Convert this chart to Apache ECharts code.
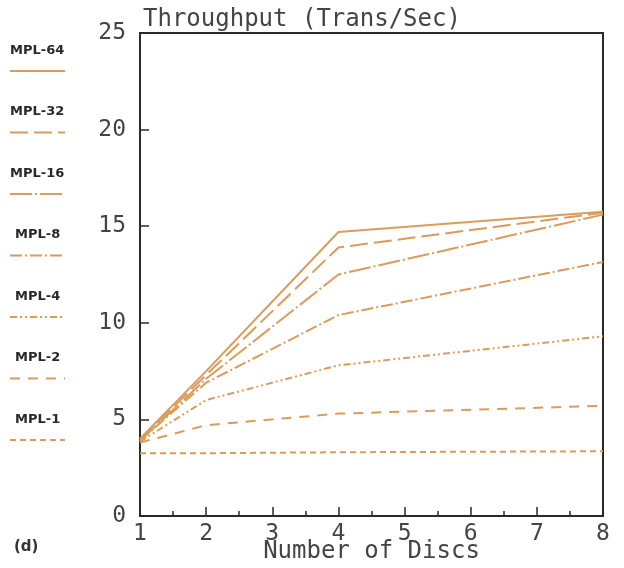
<!DOCTYPE html>
<html><head><meta charset="utf-8">
<script src="https://cdn.jsdelivr.net/npm/echarts@6/dist/echarts.min.js"></script>
<style>html,body{margin:0;padding:0;background:#fff}#c{width:624px;height:568px}</style>
</head><body><div id="c"></div>
<script>
const discs = [1, 2, 4, 8];
const seriesNames = ['MPL-64', 'MPL-32', 'MPL-16', 'MPL-8', 'MPL-4', 'MPL-2', 'MPL-1'];
const mpl64 = [4.0, 7.5, 14.7, 15.75];
const mpl32 = [3.95, 7.3, 13.9, 15.7];
const mpl16 = [3.9, 7.1, 12.5, 15.6];
const mpl8  = [3.9, 6.9, 10.4, 13.15];
const mpl4  = [3.85, 6.0, 7.8, 9.3];
const mpl2  = [3.8, 4.7, 5.3, 5.7];
const mpl1  = [3.25, 3.25, 3.3, 3.35];
const yTicks = [0, 5, 10, 15, 20, 25];

const values = [mpl64, mpl32, mpl16, mpl8, mpl4, mpl2, mpl1];
const dashes = ['solid', [18, 6], [22, 3, 2, 3], [12, 3, 2, 3], [7, 3, 2, 3, 2, 3], [10, 8], [6, 4]];
const col = '#d99c5c';
const axisCol = '#2a2a2a';
const fontF = '"DejaVu Sans Mono", monospace';

const series = seriesNames.map((n, i) => ({
  name: n, type: 'line', symbol: 'none', animation: false,
  data: discs.map((d, j) => [d, values[i][j]]),
  lineStyle: { color: col, width: 2, type: dashes[i] }
}));

const graphic = [];
seriesNames.forEach((n, i) => {
  const y0 = 52 + i * 61.5;
  graphic.push({ type: 'text', left: n.length > 5 ? 10 : 15, top: y0 - 8,
    style: { text: n, font: 'bold 13px "DejaVu Sans", sans-serif', fill: '#2a2a2a' } });
  graphic.push({ type: 'line', shape: { x1: 10, y1: y0 + 19, x2: 65, y2: y0 + 19 },
    style: { stroke: col, lineWidth: 2, lineDash: dashes[i] === 'solid' ? null : dashes[i] } });
});
graphic.push({ type: 'text', left: 14, top: 540,
  style: { text: '(d)', font: 'bold 15px "DejaVu Sans", sans-serif', fill: '#333' } });

const chart = echarts.init(document.getElementById('c'), null, { renderer: 'canvas' });
chart.setOption({
  backgroundColor: '#fff',
  animation: false,
  title: { text: 'Throughput (Trans/Sec)', left: 138, top: 3,
    textStyle: { fontFamily: fontF, fontWeight: 'normal', fontSize: 24, color: '#444' } },
  grid: { left: 140, right: 21, top: 33, bottom: 52, show: true, borderColor: axisCol, borderWidth: 2,
    containLabel: false, outerBoundsMode: 'none' },
  xAxis: {
    type: 'value', min: 1, max: 8, interval: 1,
    name: 'Number of Discs', nameLocation: 'middle', nameGap: 24, nameMoveOverlap: false,
    nameTextStyle: { fontFamily: fontF, fontSize: 24, color: '#444', verticalAlign: 'top' },
    axisLine: { lineStyle: { color: axisCol, width: 2 } },
    axisTick: { inside: true, length: 9, lineStyle: { color: axisCol, width: 1.5 } },
    minorTick: { show: true, splitNumber: 2, length: 5, lineStyle: { color: axisCol, width: 1.5 } },
    axisLabel: { fontFamily: fontF, fontSize: 23, color: '#444', margin: 7 },
    splitLine: { show: false }
  },
  yAxis: {
    type: 'value', min: 0, max: 25, interval: 5,
    axisLine: { lineStyle: { color: axisCol, width: 2 } },
    axisTick: { inside: true, length: 9, lineStyle: { color: axisCol, width: 1.5 } },
    axisLabel: { fontFamily: fontF, fontSize: 23, color: '#444', margin: 14 },
    splitLine: { show: false }
  },
  graphic: graphic,
  series: series
});
</script></body></html>
